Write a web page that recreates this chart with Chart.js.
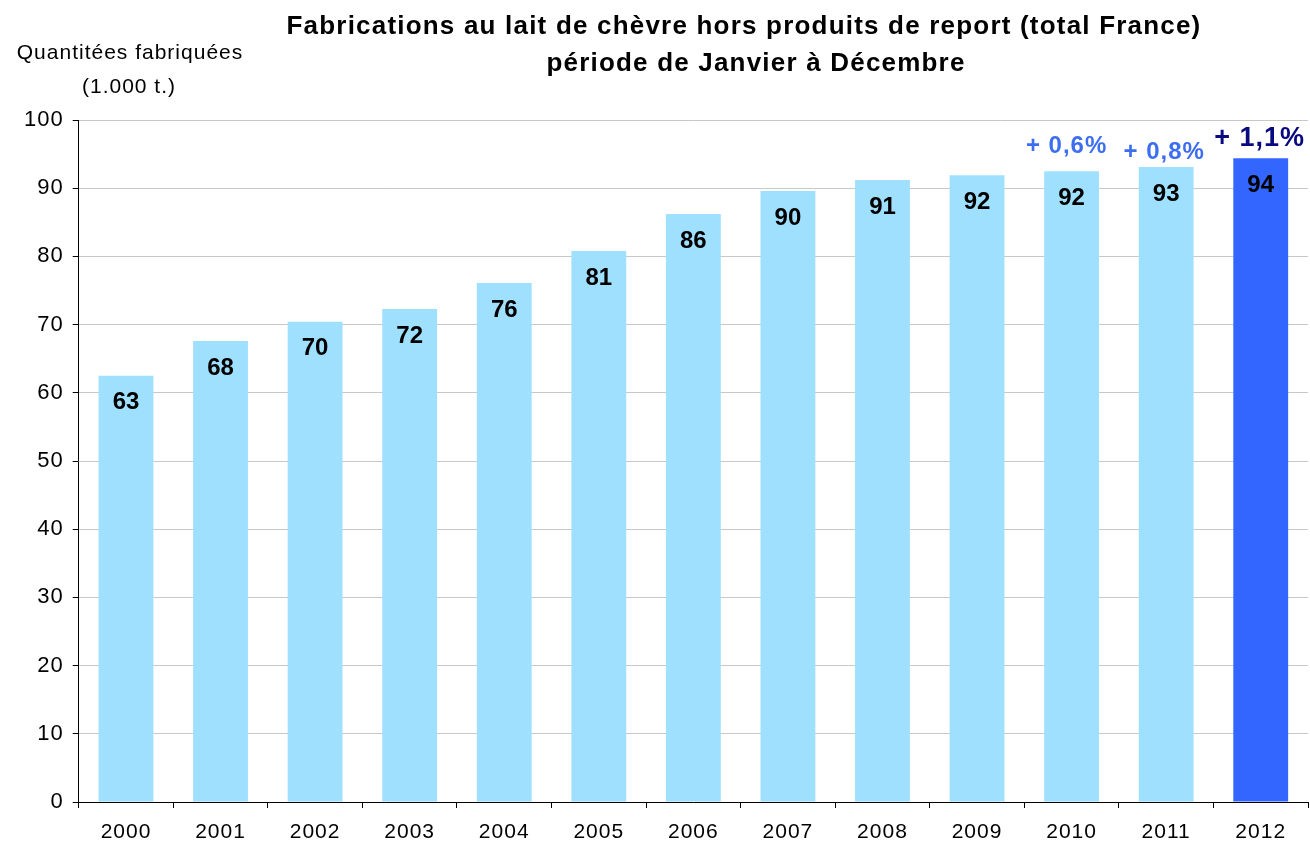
<!DOCTYPE html>
<html>
<head>
<meta charset="utf-8">
<script src="https://cdn.jsdelivr.net/npm/chart.js@4.4.0/dist/chart.umd.min.js"></script>
<style>
  html, body { margin: 0; padding: 0; background: #fff; }
  #wrap { width: 1310px; height: 847px; position: relative; }
</style>
</head>
<body>
<div id="wrap"><canvas id="chevreChart"></canvas></div>
<script>
// données
const years = ['2000', '2001', '2002', '2003', '2004', '2005', '2006',
               '2007', '2008', '2009', '2010', '2011', '2012'];
const quantities = [62.5, 67.6, 70.4, 72.3, 76.1, 80.8, 86.2, 89.6, 91.2, 91.9, 92.5, 93.1, 94.4];
const valueLabels = ['63', '68', '70', '72', '76', '81', '86', '90', '91', '92', '92', '93', '94'];
const growthLabels = ['', '', '', '', '', '', '', '', '', '', '+ 0,6%', '+ 0,8%', '+ 1,1%'];
const yTicks = [0, 10, 20, 30, 40, 50, 60, 70, 80, 90, 100];

const titleLines = ['Fabrications au lait de chèvre hors produits de report (total France)',
                    'période de Janvier à Décembre'];
const yTitleLines = ['Quantitées fabriquées', '(1.000 t.)'];

const lightBlue = '#9fe0ff';
const strongBlue = '#3366ff';
const barColors = years.map((y, i) => i === years.length - 1 ? strongBlue : lightBlue);

// textes : titre, titre de l'axe, valeurs et variations
const labelsPlugin = {
    id: 'labelsPlugin',
    beforeDraw(chart) {
        // espacement des lettres un peu plus large, comme dans l'original
        chart.ctx.letterSpacing = '1px';
    },
    afterDatasetsDraw(chart) {
        const ctx = chart.ctx;
        const meta = chart.getDatasetMeta(0);
        ctx.save();
        ctx.textAlign = 'center';
        ctx.textBaseline = 'middle';
        ctx.letterSpacing = '0px';

        // valeurs dans les barres
        ctx.fillStyle = '#000';
        ctx.font = 'bold 24px Arial, "Liberation Sans"';
        meta.data.forEach((bar, i) => {
            ctx.fillText(valueLabels[i], bar.x, bar.y + 27);
        });

        // variations au-dessus des barres
        ctx.letterSpacing = '1px';
        growthLabels.forEach((txt, i) => {
            if (!txt) return;
            const bar = meta.data[i];
            if (i === years.length - 1) {
                ctx.fillStyle = '#0a0a80';
                ctx.font = 'bold 27px Arial, "Liberation Sans"';
                ctx.fillText(txt, bar.x - 1, bar.y - 20);
            } else {
                ctx.fillStyle = '#3d6ef0';
                ctx.font = 'bold 24px Arial, "Liberation Sans"';
                ctx.fillText(txt, bar.x - (i === 10 ? 5 : 2), bar.y - (i === 10 ? 25 : 15));
            }
        });

        // titre
        ctx.fillStyle = '#000';
        ctx.letterSpacing = '1.2px';
        ctx.font = 'bold 26px Arial, "Liberation Sans"';
        ctx.fillText(titleLines[0], 744, 27);
        ctx.fillText(titleLines[1], 756, 64);

        // titre de l'axe
        ctx.letterSpacing = '1px';
        ctx.font = '21px Arial, "Liberation Sans"';
        ctx.fillText(yTitleLines[0], 130, 53);
        ctx.fillText(yTitleLines[1], 129, 87);
        ctx.restore();
    }
};

const chart = new Chart(document.getElementById('chevreChart'), {
    type: 'bar',
    data: {
        labels: years,
        datasets: [{
            data: quantities,
            backgroundColor: barColors,
            borderWidth: 0,
            categoryPercentage: 1,
            barPercentage: 0.58
        }]
    },
    options: {
        responsive: true,
        maintainAspectRatio: false,
        animation: false,
        layout: { padding: { top: 120, left: 18, right: 2, bottom: 0 } },
        plugins: {
            legend: { display: false },
            title: { display: false },
            tooltip: { enabled: false }
        },
        scales: {
            x: {
                afterFit(axis) { axis.height = 45; },
                border: { color: '#000', width: 1 },
                grid: { offset: true, drawOnChartArea: false, color: '#000', tickLength: 6 },
                ticks: {
                    color: '#000',
                    padding: 12,
                    font: { family: 'Arial, "Liberation Sans"', size: 21 }
                }
            },
            y: {
                min: 0,
                max: 100,
                afterBuildTicks(axis) {
                    axis.ticks = yTicks.map(v => ({ value: v }));
                },
                border: { color: '#000', width: 1 },
                grid: { color: '#c8c8c8', tickColor: '#000', tickLength: 6 },
                ticks: {
                    color: '#000',
                    padding: 9,
                    font: { family: 'Arial, "Liberation Sans"', size: 22 }
                }
            }
        }
    },
    plugins: [labelsPlugin]
});
</script>
</body>
</html>
